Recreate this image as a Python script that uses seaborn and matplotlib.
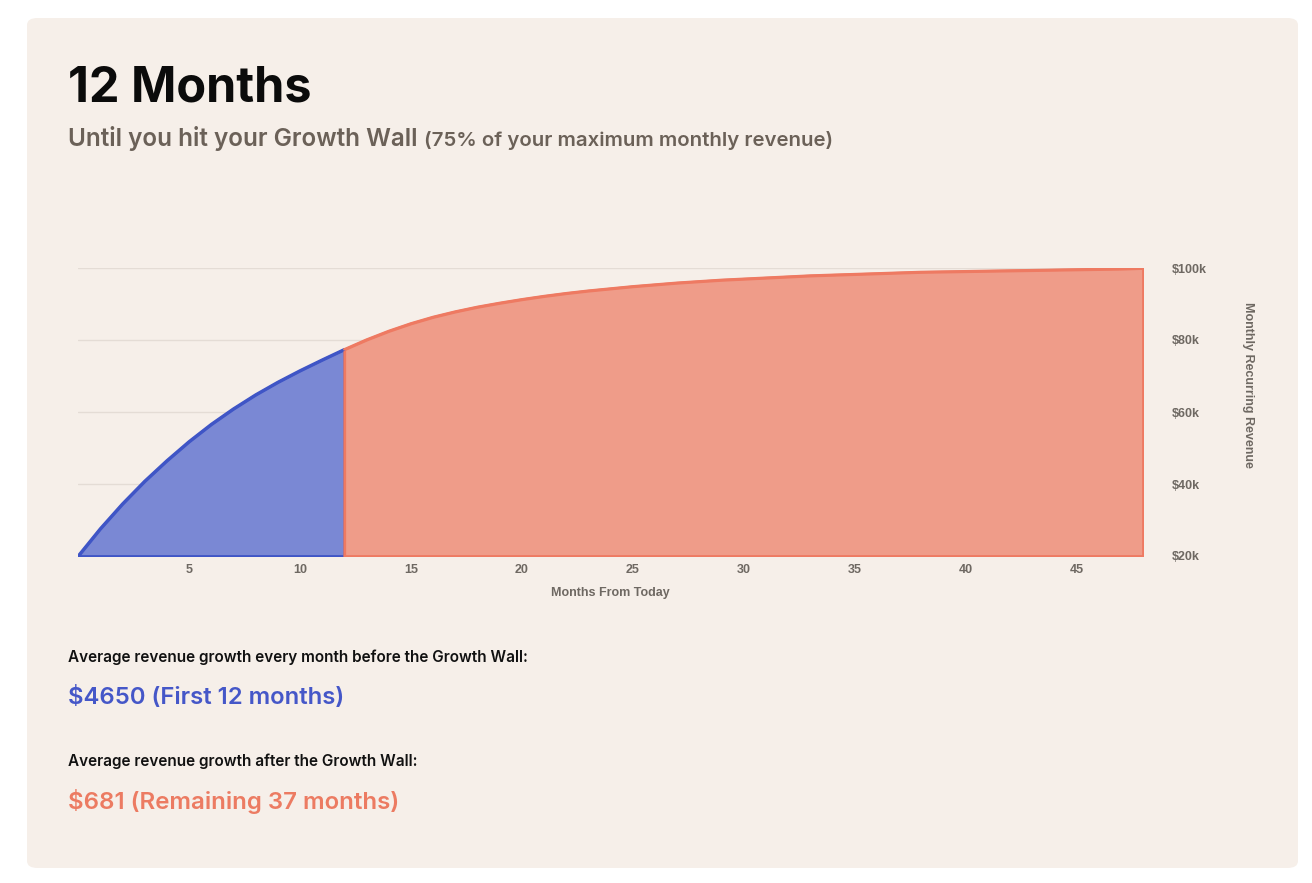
import seaborn as sns
import matplotlib.pyplot as plt
from matplotlib.patches import FancyBboxPatch
import pandas as pd

# 월별 MRR (단위: $k), 그림에서 읽은 값
months_before = list(range(0, 13))
mrr_before = [20.0, 27.6, 34.5, 40.8, 46.5, 51.8, 56.6, 60.9, 64.8, 68.3, 71.5, 74.5, 77.4]

months_after = list(range(12, 49))
mrr_after = [77.4, 80.1, 82.5, 84.6, 86.4, 87.9, 89.2, 90.3, 91.3, 92.2, 93.0, 93.7,
             94.3, 94.9, 95.4, 95.9, 96.3, 96.7, 97.0, 97.3, 97.6, 97.9, 98.1, 98.3,
             98.5, 98.7, 98.9, 99.0, 99.1, 99.2, 99.3, 99.4, 99.5, 99.6, 99.7, 99.8, 100.0]

x_ticks = [5, 10, 15, 20, 25, 30, 35, 40, 45]
y_ticks = [20, 40, 60, 80, 100]
y_tick_labels = ['$20k', '$40k', '$60k', '$80k', '$100k']

before = pd.DataFrame({'month': months_before, 'mrr': mrr_before})
after = pd.DataFrame({'month': months_after, 'mrr': mrr_after})

card_color = '#f6efe9'
blue_fill, blue_line = '#7a88d4', '#3f55c6'
red_fill, red_line = '#ef9c89', '#ee7a62'
grey = '#6e6862'

sns.set_theme(style='white')
plt.rcParams['font.family'] = ['Inter', 'DejaVu Sans']

fig = plt.figure(figsize=(13.12, 8.83), dpi=100)
fig.patch.set_facecolor('white')

# 배경 카드
card = FancyBboxPatch((27 / 1312, 15 / 883), 1271 / 1312, 850 / 883,
                      boxstyle='round,pad=0,rounding_size=0.008',
                      transform=fig.transFigure, facecolor=card_color,
                      edgecolor='none', zorder=-10)
fig.patches.append(card)

ax = fig.add_axes([78 / 1312, 1 - 556 / 883, (1143 - 78) / 1312, (556 - 268) / 883])
ax.set_zorder(2)
ax.patch.set_alpha(0)

# 면적 그래프
ax.fill_between(before['month'], before['mrr'], 20, facecolor=blue_fill,
                edgecolor=blue_line, linewidth=2, zorder=2)
ax.fill_between(after['month'], after['mrr'], 20, facecolor=red_fill,
                edgecolor=red_line, linewidth=2, zorder=3)
sns.lineplot(x='month', y='mrr', data=before, color=blue_line, linewidth=2, ax=ax, zorder=4)
sns.lineplot(x='month', y='mrr', data=after, color=red_line, linewidth=1.8, ax=ax, zorder=4)

ax.set_xlim(0, 48)
ax.set_ylim(20, 100)
ax.set_xticks(x_ticks)
ax.set_yticks(y_ticks)
ax.set_yticklabels(y_tick_labels)
ax.yaxis.tick_right()
ax.grid(axis='y', color='#e4dcd5', linewidth=1, zorder=1)
ax.set_axisbelow(True)
for s in ax.spines.values():
    s.set_visible(False)

ax.tick_params(axis='x', length=0, pad=6, labelsize=9, labelcolor=grey)
ax.tick_params(axis='y', length=0, pad=21, labelsize=9, labelcolor=grey)
for lab in ax.get_xticklabels() + ax.get_yticklabels():
    lab.set_family(['Liberation Sans', 'DejaVu Sans'])
    lab.set_fontweight('bold')

ax.set_xlabel('Months From Today', fontsize=9, color=grey, family=['Liberation Sans'],
              fontweight='bold', labelpad=8)
ax.yaxis.set_label_position('right')
ax.set_ylabel('Monthly Recurring Revenue', fontsize=9, color=grey, rotation=270,
              family=['Liberation Sans'], fontweight='bold')
ax.yaxis.set_label_coords(1.104, 0.595)

# 제목과 설명
x0 = 68 / 1312
fig.text(x0, 1 - 102 / 883, '12 Months', fontsize=35, fontweight='bold', color='#0b0b0b')
sub = fig.text(x0, 1 - 146 / 883, 'Until you hit your Growth Wall', fontsize=17.5,
               fontweight='semibold', color='#6b6158')
fig.canvas.draw()
bb = sub.get_window_extent().transformed(fig.transFigure.inverted())
fig.text(bb.x1 + 6 / 1312, 1 - 146 / 883, '(75% of your maximum monthly revenue)',
         fontsize=14.7, fontweight='semibold', color='#6b6158')

fig.text(x0, 1 - 662 / 883, 'Average revenue growth every month before the Growth Wall:',
         fontsize=11, fontweight='semibold', color='#111111')
fig.text(x0, 1 - 704 / 883, '$4650 (First 12 months)', fontsize=17.2,
         fontweight='semibold', color='#4557c8')
fig.text(x0, 1 - 766 / 883, 'Average revenue growth after the Growth Wall:',
         fontsize=11, fontweight='semibold', color='#111111')
fig.text(x0, 1 - 809 / 883, '$681 (Remaining 37 months)', fontsize=17.3,
         fontweight='semibold', color='#ec7b62')

fig.savefig('out.png', dpi=100, facecolor='white')
